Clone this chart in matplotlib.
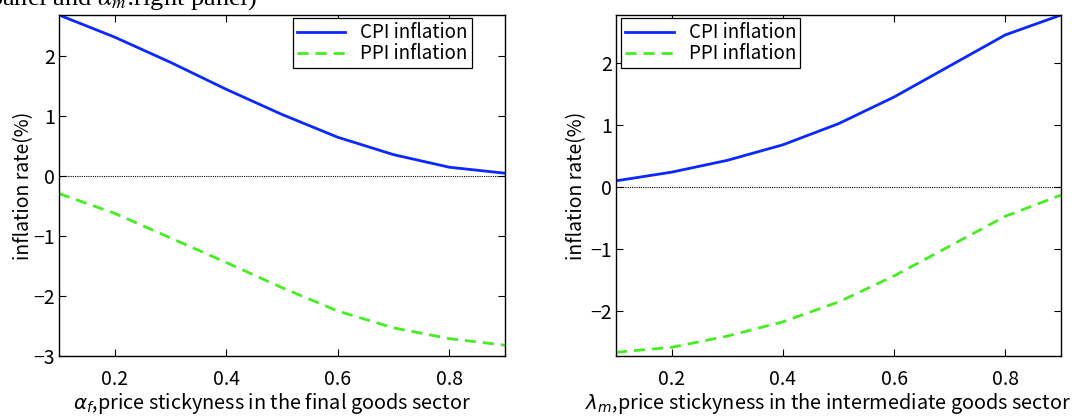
import numpy as np
import matplotlib
matplotlib.use("Agg")
import matplotlib.pyplot as plt

plt.rcParams['font.family'] = ['Noto Sans CJK JP', 'DejaVu Sans']
plt.rcParams['mathtext.fontset'] = 'dejavusans'

# stickiness parameter grid
stick = [0.1, 0.2, 0.3, 0.4, 0.5, 0.6, 0.7, 0.8, 0.9]

# left panel: alpha_f varied
cpi_alpha = [2.69, 2.32, 1.90, 1.45, 1.03, 0.65, 0.36, 0.15, 0.05]
ppi_alpha = [-0.29, -0.62, -1.03, -1.44, -1.86, -2.25, -2.53, -2.71, -2.82]

# right panel: lambda_m varied
cpi_lambda = [0.10, 0.24, 0.43, 0.68, 1.02, 1.45, 1.95, 2.45, 2.77]
ppi_lambda = [-2.66, -2.58, -2.40, -2.17, -1.85, -1.43, -0.95, -0.47, -0.13]

xlabels = [r'$\alpha_{f}$,price stickyness in the final goods sector',
           r'$\lambda_{m}$,price stickyness in the intermediate goods sector']

blue = '#0a28ff'
green = '#44ee22'

W, H = 1081, 419
fig = plt.figure(figsize=(W / 100, H / 100), dpi=100)
ax1 = fig.add_axes([59/W, 1 - 356/H, (505-59)/W, (356-15)/H])
ax2 = fig.add_axes([616/W, 1 - 356/H, (1061-616)/W, (356-15)/H])

# legend anchors (upper-right corner for left panel, upper-left for right panel)
panels = [(ax1, cpi_alpha, ppi_alpha, (-3, 2.69), 'upper right', (0.925, 0.99)),
          (ax2, cpi_lambda, ppi_lambda, (-2.72, 2.77), 'upper left', (0.012, 0.99))]
ylab_x = [34, 587]     # pixel column of the y labels
xlab_c = [272, 828]    # pixel centre of the x labels

for i, (ax, cpi, ppi, ylim, loc, anchor) in enumerate(panels):
    ax.plot(stick, cpi, color=blue, lw=2, label='CPI inflation')
    ax.plot(stick, ppi, color=green, lw=2, ls=(0, (4, 2.5)), label='PPI inflation')
    ax.axhline(0, color='black', lw=0.8, ls=(0, (1, 1)))
    ax.set_xlim(0.1, 0.9)
    ax.set_ylim(*ylim)
    ax.set_xticks([0.2, 0.4, 0.6, 0.8])
    ax.set_xticklabels(['0.2', '0.4', '0.6', '0.8'])
    ax.set_yticks([t for t in [-3, -2, -1, 0, 1, 2] if ylim[0] <= t <= ylim[1]])
    ax.tick_params(direction='in', top=True, right=True, labelsize=14, length=5)
    ax.tick_params(axis='x', pad=9)
    ax.tick_params(axis='y', pad=3)
    for s in ax.spines.values():
        s.set_linewidth(1.0)
    pos = ax.get_position()
    ax.set_ylabel('inflation rate(%)', fontsize=14)
    ax.yaxis.set_label_coords((ylab_x[i] - pos.x0 * W) / (pos.width * W), 0.5)
    ax.set_xlabel(xlabels[i], fontsize=14.3, labelpad=1)
    ax.xaxis.label.set_x((xlab_c[i] - pos.x0 * W) / (pos.width * W))
    leg = ax.legend(loc=loc, bbox_to_anchor=anchor, fontsize=13.5, fancybox=False,
                    framealpha=1, edgecolor='black', borderpad=0.2, labelspacing=0.0,
                    handlelength=2.6, borderaxespad=0.0, handletextpad=0.8)
    leg.get_frame().set_linewidth(0.9)

# caption text from the page above, cut off at the top edge
fig.text(-11/W, 1 - 5/H, r'panel and $\alpha_m$:right panel)', family='Liberation Serif',
         math_fontfamily='stix', fontsize=19, va='baseline', ha='left')

fig.savefig('out.png', dpi=100)
